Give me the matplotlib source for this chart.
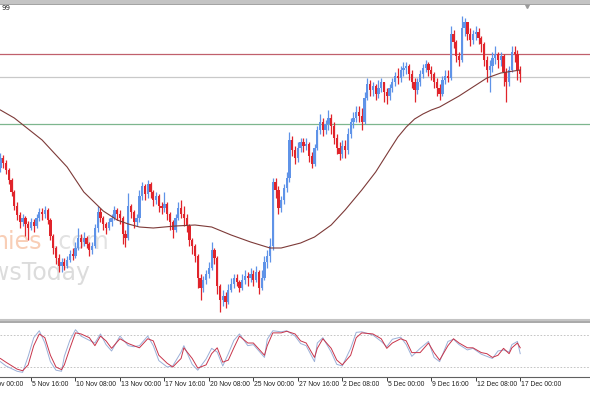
import numpy as np
import matplotlib
matplotlib.use("Agg")
import matplotlib.pyplot as plt
from matplotlib.lines import Line2D
from matplotlib.patches import Rectangle
import matplotlib.transforms as mtransforms

# price data in pips above BASE (H4 bars, bar 0 = 3 Nov 00:00)
BASE = 1.2300
PIP = 0.0001
first_bar = 5
first_open = 150
closes = [160, 155, 148, 138, 126, 112, 103, 96, 100, 94,
          90, 96, 92, 100, 106, 104, 108, 98, 82, 70,
          60, 52, 56, 52, 58, 64, 62, 70, 80, 76,
          80, 74, 68, 72, 90, 106, 100, 94, 90, 96,
          100, 108, 104, 100, 84, 80, 112, 106, 96, 100,
          122, 132, 124, 134, 126, 118, 122, 112, 110, 114,
          104, 96, 88, 100, 110, 104, 100, 92, 78, 72,
          62, 40, 30, 38, 44, 50, 68, 60, 32, 18,
          22, 16, 28, 34, 40, 36, 30, 38, 42, 40,
          44, 38, 46, 30, 40, 56, 62, 72, 136, 128,
          110, 118, 130, 140, 178, 168, 160, 170, 176, 172,
          174, 162, 154, 170, 188, 196, 188, 194, 200, 192,
          180, 170, 164, 172, 168, 184, 196, 200, 206, 202,
          196, 220, 234, 228, 232, 224, 230, 236, 226, 222,
          230, 236, 242, 240, 248, 250, 252, 244, 236, 228,
          236, 244, 250, 254, 248, 244, 236, 230, 224, 238,
          242, 240, 284, 276, 262, 258, 290, 296, 284, 278,
          284, 286, 280, 274, 258, 248, 252, 260, 264, 258,
          262, 246, 236, 248, 266, 264, 248, 244]
highs = [165, 163, 158, 150, 140, 128, 116, 106, 104, 102,
         97, 100, 99, 104, 110, 110, 112, 110, 100, 84,
         72, 64, 60, 60, 62, 68, 70, 76, 90, 84,
         86, 82, 76, 76, 94, 112, 110, 102, 96, 100,
         104, 112, 110, 108, 102, 88, 125, 114, 108, 104,
         128, 136, 134, 138, 136, 128, 126, 124, 116, 126,
         116, 106, 98, 104, 116, 118, 112, 104, 94, 80,
         74, 64, 44, 42, 48, 56, 76, 70, 62, 34,
         28, 26, 34, 40, 44, 44, 38, 44, 48, 46,
         50, 48, 52, 48, 48, 62, 68, 80, 140, 140,
         132, 122, 134, 146, 186, 182, 172, 176, 180, 180,
         180, 176, 166, 174, 192, 204, 200, 198, 208, 204,
         196, 184, 176, 178, 178, 190, 200, 206, 212, 212,
         210, 226, 240, 238, 236, 234, 238, 240, 236, 230,
         234, 240, 246, 250, 252, 256, 256, 254, 248, 240,
         240, 248, 254, 258, 256, 252, 246, 240, 234, 242,
         248, 248, 292, 288, 278, 266, 302, 300, 296, 290,
         288, 292, 290, 282, 276, 262, 258, 266, 272, 266,
         266, 264, 250, 252, 272, 272, 268, 252]
lows = [146, 150, 144, 134, 122, 108, 98, 90, 92, 82,
        78, 88, 86, 90, 97, 98, 100, 94, 78, 64,
        54, 46, 46, 48, 50, 56, 58, 60, 68, 70,
        72, 70, 62, 64, 70, 86, 96, 88, 84, 88,
        92, 98, 98, 94, 74, 71, 78, 100, 90, 92,
        96, 118, 118, 120, 120, 112, 114, 106, 104, 106,
        98, 88, 80, 86, 98, 100, 92, 86, 72, 64,
        56, 30, 18, 26, 34, 40, 48, 54, 24, 6,
        12, 10, 14, 26, 30, 32, 26, 28, 34, 32,
        36, 32, 36, 24, 28, 38, 50, 56, 68, 120,
        104, 106, 114, 126, 136, 162, 154, 156, 166, 166,
        168, 156, 150, 152, 168, 184, 182, 184, 188, 184,
        174, 164, 158, 160, 160, 164, 180, 190, 196, 196,
        188, 194, 218, 222, 222, 218, 220, 226, 216, 214,
        218, 226, 232, 234, 236, 242, 244, 238, 230, 216,
        224, 232, 240, 246, 242, 238, 230, 222, 218, 222,
        234, 236, 238, 270, 256, 252, 256, 282, 278, 272,
        274, 278, 274, 266, 252, 236, 226, 246, 254, 250,
        252, 232, 216, 232, 246, 256, 238, 236]

# moving average, read at a few bars
ma_idx = [5, 10, 15, 20, 25, 29, 35, 42, 47, 51, 55, 60, 68, 75, 81, 88, 95, 102, 106,
          113, 118, 124, 129, 135, 140, 145, 148, 151, 154, 157, 160, 163, 170, 175,
          180, 185, 192]
ma_pips = [208, 200, 189, 178, 163, 151, 126, 107, 98, 94, 91, 90, 92, 93, 91, 83, 76, 70, 70,
           75, 81, 93, 108, 128, 146, 168, 181, 191, 199, 204, 208, 211, 222, 231,
           240, 245, 248]

# horizontal levels (pips above BASE)
level_red = 264
level_gray = 241
level_green = 194

# stochastic oscillator
st_idx = [5, 7, 11, 13, 15, 17, 19, 21, 23, 25,
          27, 28, 30, 32, 34, 37, 39, 41, 43, 45,
          48, 51, 53, 55, 58, 60, 62, 65, 67, 70,
          71, 74, 76, 79, 81, 83, 85, 87, 89, 91,
          94, 96, 100, 101, 103, 106, 108, 111, 113, 115,
          118, 119, 121, 124, 126, 128, 131, 133, 135, 139,
          142, 144, 146, 149, 151, 153, 156, 159, 161, 163,
          166, 168, 170, 173, 175, 178, 180, 182, 184, 186,
          188, 189, 191, 192]
st_signal = [36, 29, 16, 13, 24, 60, 82, 75, 42, 20,
             15, 24, 55, 84, 82, 75, 60, 78, 69, 55,
             73, 64, 60, 56, 73, 69, 42, 27, 20, 36,
             56, 36, 18, 24, 45, 56, 29, 33, 56, 78,
             65, 65, 42, 60, 84, 84, 87, 82, 69, 65,
             38, 55, 73, 55, 33, 24, 42, 75, 84, 82,
             73, 55, 65, 73, 69, 47, 47, 65, 47, 33,
             60, 73, 65, 56, 56, 47, 45, 38, 42, 55,
             45, 56, 65, 56]
st_main = [30, 22, 12, 10, 40, 75, 88, 65, 30, 14,
           12, 40, 70, 90, 78, 70, 65, 82, 62, 50,
           78, 60, 58, 60, 78, 60, 32, 20, 22, 48,
           60, 25, 14, 35, 55, 48, 22, 45, 70, 82,
           60, 62, 38, 72, 88, 86, 88, 78, 64, 60,
           30, 65, 75, 48, 25, 22, 55, 85, 86, 80,
           68, 58, 72, 76, 62, 40, 55, 68, 38, 30,
           68, 72, 62, 52, 55, 44, 40, 36, 50, 52,
           48, 62, 68, 45]

tick_idx = [0, 16, 32, 48, 64, 80, 96, 112, 128, 144, 160, 176, 192]
tick_labels = ["3 Nov 00:00", "5 Nov 16:00", "10 Nov 08:00", "13 Nov 00:00",
               "17 Nov 16:00", "20 Nov 08:00", "25 Nov 00:00", "27 Nov 16:00",
               "2 Dec 08:00", "5 Dec 00:00", "9 Dec 16:00", "12 Dec 08:00",
               "17 Dec 00:00"]

# ---- build arrays
c = np.array(closes, float)
o = np.array([first_open] + closes[:-1], float)
h = np.array(highs, float)
lo = np.array(lows, float)
idx = np.arange(first_bar, first_bar + len(closes))
to_price = lambda p: BASE + np.asarray(p, float) * PIP

W, H = 590, 393
fig = plt.figure(figsize=(W / 100, H / 100), dpi=100)
fig.patch.set_facecolor("white")

def box(top, bottom):
    return [0, 1 - bottom / H, 1, (bottom - top) / H]

XL = (4.86, 217.1)

ax = fig.add_axes(box(4, 319))
ax.set_xlim(*XL)
ax.set_ylim(to_price(-1), to_price(314))
ax.axis("off")

# watermark (behind the chart)
wm = dict(transform=fig.transFigure, fontsize=17, zorder=0, clip_on=False)
ax.text(-6 / W, 1 - 249 / H, "nies", color="#f8ceb6", **wm)
ax.text(52 / W, 1 - 249 / H, ".com", color="#e2e2e2", **wm)
ax.text(-10 / W, 1 - 280 / H, "wsToday", color="#dcdcdc", **wm)

bull, bear = "#5f93e8", "#e0242b"
cols = np.where(c >= o, bull, bear)
ax.vlines(idx, to_price(lo), to_price(h), colors=cols, lw=0.9, zorder=3)
ax.bar(idx, to_price(c) - to_price(o), bottom=to_price(o), width=0.82,
       color=cols, linewidth=0, zorder=3)

ax.axhline(to_price(level_red), color="#c0606c", lw=0.9, zorder=2)
ax.axhline(to_price(level_gray), color="#c9c9c9", lw=0.9, zorder=2)
ax.axhline(to_price(level_green), color="#7db68e", lw=0.9, zorder=2)
ax.plot(ma_idx, to_price(ma_pips), color="#7d3a38", lw=0.8, zorder=4)

fig.text(1 / W, 1 - 8 / H, "99", fontsize=5, va="center", color="#222222")

# indicator panel
axi = fig.add_axes(box(322, 377))
axi.set_xlim(*XL)
axi.set_ylim(1.25, 104.4)
for s in ["left", "right"]:
    axi.spines[s].set_visible(False)
axi.spines["top"].set_color("#9a9a9a")
axi.spines["top"].set_linewidth(1.2)
axi.spines["bottom"].set_color("#606060")
axi.spines["bottom"].set_linewidth(0.8)
axi.set_yticks([])
axi.axhline(80, color="#bbbbbb", lw=0.6, ls=(0, (2, 2)))
axi.axhline(20, color="#bbbbbb", lw=0.6, ls=(0, (2, 2)))
axi.plot(st_idx, st_main, color="#9bb0d8", lw=0.7)
axi.plot(st_idx, st_signal, color="#c8344a", lw=0.7)

axi.set_xticks([t for t in tick_idx if t >= XL[0]])
axi.set_xticklabels([])
axi.tick_params(axis="x", direction="out", length=3, width=0.7, color="#404040")
trans = mtransforms.blended_transform_factory(axi.transData, axi.transAxes)
for t, lab in zip(tick_idx, tick_labels):
    axi.text(t + 0.35, -0.08, lab, transform=trans, ha="left", va="top",
             fontsize=4.9, family=["Liberation Sans", "DejaVu Sans"],
             color="#202020", clip_on=False)

# window frame pieces
fig.patches.append(Rectangle((0, 1 - 3 / H), 1, 3 / H, transform=fig.transFigure,
                             color="#c4c4c4", zorder=5))
fig.add_artist(Line2D([0, 1], [1 - 3.5 / H] * 2, color="#8a8a8a", lw=0.6))
fig.add_artist(Line2D([0, 1], [1 - 320 / H] * 2, color="#c4c4c4", lw=1.5))
fig.add_artist(Line2D([527 / W], [1 - 5 / H], marker="v", ms=4, color="#9a9a9a"))

fig.savefig("out.png", dpi=100, facecolor="white")
